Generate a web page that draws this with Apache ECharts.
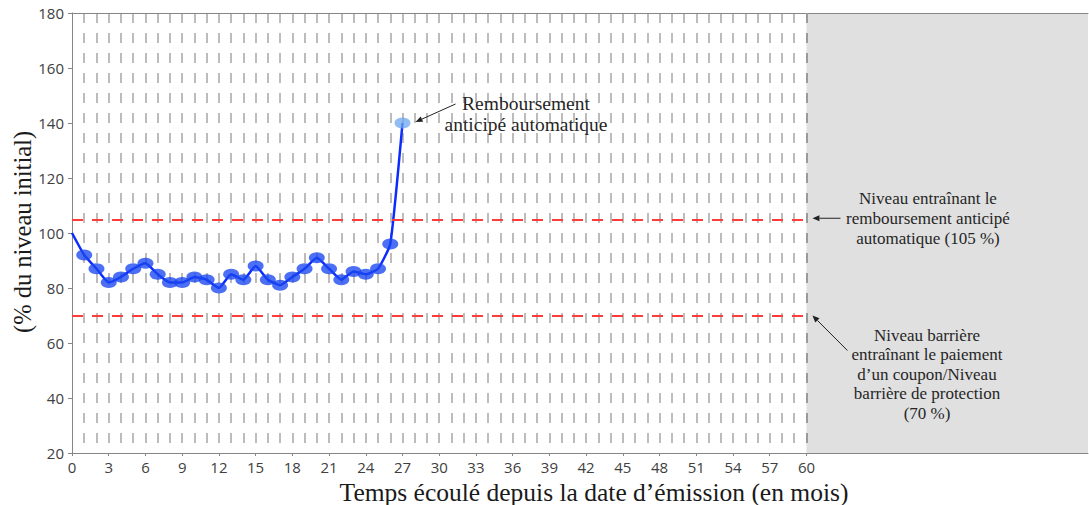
<!DOCTYPE html>
<html>
<head>
<meta charset="utf-8">
<script src="https://cdn.jsdelivr.net/npm/echarts@6/dist/echarts.min.js"></script>
<style>
html,body{margin:0;padding:0;background:#fff;}
#main{width:1089px;height:505px;}
</style>
</head>
<body>
<div id="main"></div>
<script>
// ---- data ----
const months = ["0","1","2","3","4","5","6","7","8","9","10","11","12","13","14","15","16","17","18","19","20",
  "21","22","23","24","25","26","27","28","29","30","31","32","33","34","35","36","37","38","39","40",
  "41","42","43","44","45","46","47","48","49","50","51","52","53","54","55","56","57","58","59","60",
  "61","62","63","64","65","66","67","68","69","70","71","72","73","74","75","76","77","78","79","80",
  "81","82","83"];
const levelValues = [100, 92, 87, 82, 84, 87, 89, 85, 82, 82, 84, 83, 80, 85, 83, 88, 83, 81, 84, 87, 91, 87, 83, 86, 85, 87, 96, 140];
const xTickLabels = [0, 3, 6, 9, 12, 15, 18, 21, 24, 27, 30, 33, 36, 39, 42, 45, 48, 51, 54, 57, 60];
const yTickLabels = [20, 40, 60, 80, 100, 120, 140, 160, 180];
const autocallLevel = [105];
const barrierLevel = [70];
const maturityMonth = ["60"];
const lastMonth = ["83"];

const chart = echarts.init(document.getElementById('main'), null, {renderer: 'svg'});

const seriesData = levelValues.map((v, i) => {
  if (i === 0) return {value: v, symbol: 'none'};
  if (i === levelValues.length - 1) return {value: v, itemStyle: {color: 'rgba(110,165,240,0.75)'}};
  return v;
});

const redStyle = {color: '#ff3b3b', width: 2, type: [11, 9]};

chart.setOption({
  animation: false,
  grid: {left: 72, right: 1, top: 13, bottom: 52},
  xAxis: [{
    type: 'category', data: months, boundaryGap: false, position: 'bottom', z: 2,
    axisLine: {lineStyle: {color: '#868686', width: 1}},
    axisTick: {show: true, length: 3, interval: (i) => xTickLabels.includes(i), lineStyle: {color: '#868686'}},
    axisLabel: {interval: (i) => xTickLabels.includes(i), color: '#404040', fontFamily: 'Open Sans', fontSize: 15, margin: 6},
    splitLine: {show: true, interval: (i) => i >= 1 && i < 60, lineStyle: {color: '#bcbcbc', width: 2, type: [10, 10]}}
  }, {
    type: 'category', data: months, boundaryGap: false, position: 'top', z: 2,
    axisLine: {lineStyle: {color: '#868686', width: 1}},
    axisTick: {show: false}, axisLabel: {show: false}, splitLine: {show: false}
  }],
  yAxis: {
    type: 'value', min: yTickLabels[0], max: yTickLabels[yTickLabels.length - 1], interval: 20, z: 2,
    axisLine: {show: true, lineStyle: {color: '#868686', width: 1}},
    axisTick: {show: true, length: 4, lineStyle: {color: '#868686'}},
    axisLabel: {color: '#404040', fontFamily: 'Open Sans', fontSize: 15, margin: 8},
    splitLine: {show: false}
  },
  series: [{
    type: 'line', data: [], silent: true,
    markArea: {silent: true, z: 1, itemStyle: {color: '#e0e0e0'},
      data: [[{xAxis: maturityMonth[0]}, {xAxis: lastMonth[0]}]]}
  }, {
    type: 'line', data: seriesData, z: 3,
    smooth: 0.15,
    symbol: 'circle', symbolSize: [16, 11], showSymbol: true, showAllSymbol: true,
    lineStyle: {color: '#0a2cff', width: 2.5},
    itemStyle: {color: 'rgba(25,70,240,0.78)'},
    markLine: {
      silent: true, symbol: ['none', 'none'], label: {show: false},
      data: [
        [{coord: ['0', autocallLevel[0]], lineStyle: redStyle}, {coord: [maturityMonth[0], autocallLevel[0]]}],
        [{coord: ['0', barrierLevel[0]], lineStyle: redStyle}, {coord: [maturityMonth[0], barrierLevel[0]]}],
        [{coord: [maturityMonth[0], 180], lineStyle: {color: '#9a9a9a', width: 2, type: [10, 10]}}, {coord: [maturityMonth[0], 20]}]
      ]
    }
  }]
});

function arrow(tail, tip) {
  const dx = tip[0] - tail[0], dy = tip[1] - tail[1];
  const len = Math.hypot(dx, dy), ux = dx / len, uy = dy / len;
  const hl = 7, hw = 3;
  const base = [tip[0] - ux * hl, tip[1] - uy * hl];
  const l = [base[0] - uy * hw, base[1] + ux * hw];
  const r = [base[0] + uy * hw, base[1] - ux * hw];
  return [
    {type: 'line', silent: true, z: 100, shape: {x1: tail[0], y1: tail[1], x2: base[0], y2: base[1]}, style: {stroke: '#222', lineWidth: 1}},
    {type: 'polygon', silent: true, z: 100, shape: {points: [tip, l, r]}, style: {fill: '#222'}}
  ];
}

const last = levelValues.length - 1;
const pEnd = chart.convertToPixel({seriesIndex: 1}, [last, levelValues[last]]);
const pAuto = chart.convertToPixel({seriesIndex: 1}, [60, autocallLevel[0]]);
const pBar = chart.convertToPixel({seriesIndex: 1}, [60, barrierLevel[0]]);

const serif = '"Liberation Serif", "DejaVu Serif", serif';
const txtColor = '#262626';

const graphics = []
  .concat(arrow([pEnd[0] + 53, pEnd[1] - 19], [pEnd[0] + 13, pEnd[1] - 1]))
  .concat(arrow([pAuto[0] + 34, pAuto[1] - 1], [pAuto[0] + 6, pAuto[1] - 1]))
  .concat(arrow([pBar[0] + 41, pBar[1] + 35], [pBar[0] + 6, pBar[1]]));

graphics.push(
  {type: 'text', x: 526, y: 114, z: 100, silent: true,
    style: {text: 'Remboursement\nanticipé automatique', fontFamily: serif, fontSize: 19.5, lineHeight: 21, fill: txtColor, align: 'center', verticalAlign: 'middle'}},
  {type: 'text', x: 928, y: 218, z: 100, silent: true,
    style: {text: 'Niveau entraînant le\nremboursement anticipé\nautomatique (105 %)', fontFamily: serif, fontSize: 17, lineHeight: 20, fill: txtColor, align: 'center', verticalAlign: 'middle'}},
  {type: 'text', x: 927, y: 374, z: 100, silent: true,
    style: {text: 'Niveau barrière\nentraînant le paiement\nd\u2019un coupon/Niveau\nbarrière de protection\n(70 %)', fontFamily: serif, fontSize: 17, lineHeight: 19.5, fill: txtColor, align: 'center', verticalAlign: 'middle'}},
  {type: 'text', x: 594, y: 492, z: 100, silent: true,
    style: {text: 'Temps écoulé depuis la date d\u2019émission (en mois)', fontFamily: serif, fontSize: 25.5, fill: '#1a1a1a', align: 'center', verticalAlign: 'middle'}},
  {type: 'text', x: 22, y: 232, rotation: Math.PI / 2, z: 100, silent: true,
    style: {text: '(% du niveau initial)', fontFamily: serif, fontSize: 24.5, fill: '#1a1a1a', align: 'center', verticalAlign: 'middle'}}
);

chart.setOption({graphic: {elements: graphics}});
</script>
</body>
</html>
